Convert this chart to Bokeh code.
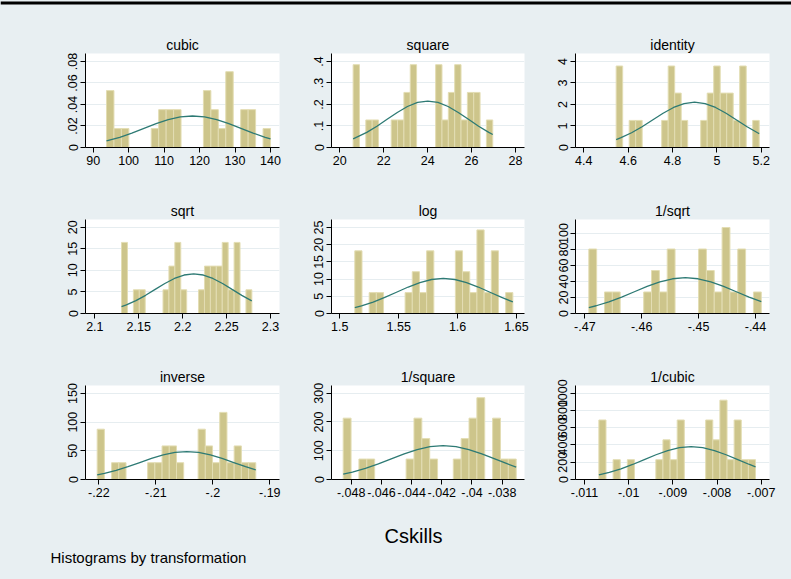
from bokeh.plotting import figure
from bokeh.layouts import column, row
from bokeh.models import FixedTicker, Label, Range1d, Span
from bokeh.embed import file_html
from bokeh.resources import INLINE

# ---------------- data ----------------
N_BINS = 22

titles = ["cubic", "square", "identity", "sqrt", "log", "1/sqrt",
          "inverse", "1/square", "1/cubic"]

# first bin edge and bin width of each histogram
bin_start = [93.76, 20.607, 4.546, 2.1304, 1.51274, -0.4693,
             -0.22029, -0.04853, -0.010675]
bin_width = [2.102, 0.289, 0.02932, 0.006745, 0.006098, 0.001378,
             0.001265, 0.0005208, 0.0001612]

# bar heights (density)
cubic_density = [0.0529, 0.0176, 0.0176, 0, 0, 0, 0.0176, 0.0352, 0.0352, 0.0352, 0,
                 0, 0, 0.0529, 0.0352, 0.0176, 0.0705, 0, 0.0352, 0.0352, 0, 0.0176]
square_density = [0.385, 0, 0.128, 0.128, 0, 0, 0.128, 0.128, 0.256, 0.385, 0,
                  0, 0, 0.385, 0.128, 0.256, 0.385, 0.128, 0.256, 0.256, 0, 0.128]
identity_density = [3.79, 0, 1.26, 1.26, 0, 0, 0, 1.26, 3.79, 2.53, 1.26,
                    0, 0, 1.26, 2.53, 3.79, 2.53, 2.53, 1.26, 3.79, 0, 1.26]
sqrt_density = [16.47, 0, 5.49, 5.49, 0, 0, 0, 5.49, 10.98, 16.47, 5.49,
                0, 0, 5.49, 10.98, 10.98, 10.98, 16.47, 5.49, 16.47, 0, 5.49]
log_density = [18.22, 0, 6.07, 6.07, 0, 0, 0, 6.07, 12.15, 6.07, 18.22,
               0, 0, 0, 18.22, 12.15, 6.07, 24.30, 6.07, 18.22, 0, 6.07]
invsqrt_density = [80.6, 0, 26.9, 26.9, 0, 0, 0, 26.9, 53.7, 26.9, 80.6,
                   0, 0, 0, 80.6, 53.7, 26.9, 107.5, 26.9, 80.6, 0, 26.9]
inverse_density = [87.8, 0, 29.3, 29.3, 0, 0, 0, 29.3, 29.3, 58.6, 58.6,
                   29.3, 0, 0, 87.8, 58.6, 29.3, 117.1, 29.3, 58.6, 29.3, 29.3]
invsquare_density = [213.3, 0, 71.1, 71.1, 0, 0, 0, 0, 71.1, 213.3, 142.2,
                     71.1, 0, 0, 71.1, 142.2, 213.3, 284.4, 0, 213.3, 71.1, 71.1]
invcubic_density = [689.4, 0, 229.8, 0, 229.8, 0, 0, 0, 229.8, 459.6, 229.8,
                    689.4, 0, 0, 0, 689.4, 459.6, 919.2, 229.8, 689.4, 229.8, 229.8]

# normal density curves
cubic_curve_x = [93.76, 97.50, 100.91, 104.33, 107.75, 111.17, 114.58, 118.0,
                 121.42, 124.84, 128.25, 131.67, 135.09, 138.51, 140.0]
cubic_curve_y = [0.00607, 0.00951, 0.01341, 0.01777, 0.02212, 0.02586, 0.02840, 0.0293,
                 0.02840, 0.02586, 0.02212, 0.01777, 0.01341, 0.00951, 0.00803]
square_curve_x = [20.607, 21.228, 21.691, 22.154, 22.617, 23.080, 23.543, 24.006,
                  24.469, 24.932, 25.395, 25.858, 26.321, 26.784, 26.965]
square_curve_y = [0.0401, 0.0701, 0.0989, 0.1310, 0.1630, 0.1906, 0.2094, 0.216,
                  0.2094, 0.1906, 0.1630, 0.1310, 0.0989, 0.0701, 0.0604]
identity_curve_x = [4.546, 4.568, 4.6154, 4.6628, 4.7101, 4.7575, 4.8048, 4.8522, 4.8995,
                    4.9469, 4.9942, 5.0416, 5.0889, 5.1363, 5.1836, 5.191]
identity_curve_y = [0.370, 0.456, 0.685, 0.966, 1.280, 1.593, 1.862, 2.045, 2.11,
                    2.045, 1.862, 1.593, 1.280, 0.966, 0.685, 0.646]
sqrt_curve_x = [2.1304, 2.1359, 2.1468, 2.1578, 2.1687, 2.1797, 2.1906, 2.2016, 2.2125,
                2.2235, 2.2344, 2.2454, 2.2563, 2.2673, 2.2787]
sqrt_curve_y = [1.589, 1.990, 2.987, 4.212, 5.580, 6.945, 8.119, 8.917, 9.2,
                8.917, 8.119, 6.945, 5.580, 4.212, 2.925]
log_curve_x = [1.51274, 1.5184, 1.5283, 1.5382, 1.5481, 1.5581, 1.5680, 1.5779, 1.5878,
               1.5977, 1.6076, 1.6175, 1.6275, 1.6374, 1.6469]
log_curve_y = [1.697, 2.206, 3.311, 4.670, 6.187, 7.699, 9.002, 9.886, 10.2,
               9.886, 9.002, 7.699, 6.187, 4.670, 3.366]
invsqrt_curve_x = [-0.4693, -0.46801, -0.46577, -0.46353, -0.46129, -0.45905, -0.45681,
                   -0.45457, -0.45233, -0.45009, -0.44785, -0.44561, -0.44337, -0.44113,
                   -0.43898]
invsqrt_curve_y = [7.45, 9.69, 14.54, 20.51, 27.17, 33.82, 39.54, 43.42, 44.8,
                   43.42, 39.54, 33.82, 27.17, 20.51, 14.78]
inverse_curve_x = [-0.22029, -0.21901, -0.21695, -0.21489, -0.21282, -0.21076, -0.20870,
                   -0.20663, -0.20457, -0.20251, -0.20044, -0.19838, -0.19632, -0.19425,
                   -0.19246]
inverse_curve_y = [7.95, 10.55, 15.84, 22.34, 29.60, 36.84, 43.07, 47.30, 48.8,
                   47.30, 43.07, 36.84, 29.60, 22.34, 16.63]
invsquare_curve_x = [-0.04853, -0.04792, -0.04706, -0.04620, -0.04535, -0.04449, -0.04363,
                     -0.04278, -0.04192, -0.04106, -0.04021, -0.03935, -0.03849, -0.03764,
                     -0.037073]
invsquare_curve_y = [18.40, 25.52, 38.31, 54.02, 71.57, 89.07, 104.1, 114.4, 118.0,
                     114.4, 104.1, 89.07, 71.57, 54.02, 43.29]
invcubic_curve_x = [-0.010675, -0.010439, -0.010174, -0.009910, -0.009646, -0.009381,
                    -0.009117, -0.008852, -0.008588, -0.008324, -0.008059, -0.007795,
                    -0.007530, -0.007266, -0.007128]
invcubic_curve_y = [54.26, 82.18, 123.4, 174.0, 230.5, 286.8, 335.4, 368.3, 380.0,
                    368.3, 335.4, 286.8, 230.5, 174.0, 146.6]

# axis ticks and labels
cubic_xticks = [90, 100, 110, 120, 130, 140]
cubic_xlabels = ["90", "100", "110", "120", "130", "140"]
cubic_yticks = [0, 0.02, 0.04, 0.06, 0.08]
cubic_ylabels = ["0", ".02", ".04", ".06", ".08"]
square_xticks = [20, 22, 24, 26, 28]
square_xlabels = ["20", "22", "24", "26", "28"]
square_yticks = [0, 0.1, 0.2, 0.3, 0.4]
square_ylabels = ["0", ".1", ".2", ".3", ".4"]
identity_xticks = [4.4, 4.6, 4.8, 5.0, 5.2]
identity_xlabels = ["4.4", "4.6", "4.8", "5", "5.2"]
identity_yticks = [0, 1, 2, 3, 4]
identity_ylabels = ["0", "1", "2", "3", "4"]
sqrt_xticks = [2.1, 2.15, 2.2, 2.25, 2.3]
sqrt_xlabels = ["2.1", "2.15", "2.2", "2.25", "2.3"]
sqrt_yticks = [0, 5, 10, 15, 20]
sqrt_ylabels = ["0", "5", "10", "15", "20"]
log_xticks = [1.5, 1.55, 1.6, 1.65]
log_xlabels = ["1.5", "1.55", "1.6", "1.65"]
log_yticks = [0, 5, 10, 15, 20, 25]
log_ylabels = ["0", "5", "10", "15", "20", "25"]
invsqrt_xticks = [-0.47, -0.46, -0.45, -0.44]
invsqrt_xlabels = ["-.47", "-.46", "-.45", "-.44"]
invsqrt_yticks = [0, 20, 40, 60, 80, 100]
invsqrt_ylabels = ["0", "20", "40", "60", "80", "100"]
inverse_xticks = [-0.22, -0.21, -0.2, -0.19]
inverse_xlabels = ["-.22", "-.21", "-.2", "-.19"]
inverse_yticks = [0, 50, 100, 150]
inverse_ylabels = ["0", "50", "100", "150"]
invsquare_xticks = [-0.048, -0.046, -0.044, -0.042, -0.04, -0.038]
invsquare_xlabels = ["-.048", "-.046", "-.044", "-.042", "-.04", "-.038"]
invsquare_yticks = [0, 100, 200, 300]
invsquare_ylabels = ["0", "100", "200", "300"]
invcubic_xticks = [-0.011, -0.01, -0.009, -0.008, -0.007]
invcubic_xlabels = ["-.011", "-.01", "-.009", "-.008", "-.007"]
invcubic_yticks = [0, 200, 400, 600, 800, 1000]
invcubic_ylabels = ["0", "200", "400", "600", "800", "1000"]

# axis extents of each panel
x_ranges = [(87.84, 142.54), (19.622, 28.41), (4.3626, 5.2374),
            (2.08938, 2.31025), (1.49295, 1.65679), (-0.47164, -0.43754),
            (-0.22234, -0.18830), (-0.049305, -0.036523), (-0.011204, -0.006812)]
y_ranges = [(0, 0.0874), (0, 0.437), (0, 4.372),
            (0, 21.78), (0, 27.33), (0, 117.5),
            (0, 164.0), (0, 326.8), (0, 1089.0)]

x_title = "Cskills"
note = "Histograms by transformation"

# ---------------- styling / layout ----------------
BG = "#e8eff2"
BAR_FILL = "#cdc58b"
BAR_LINE = "#e3ddb3"
CURVE = "#2d7a74"
GRID = "#e6edf0"
FONT = "Liberation Sans"

TOTAL_W = 791
COL_W = [300, 245, 246]
ROW_H = [166, 166, 150]
TOP_STRIP = 31
FOOT_H = 579 - TOP_STRIP - sum(ROW_H)
B_LEFT = [85, 31, 30]
B_RIGHT = [21, 21, 22]
B_TOP = [22, 22, 22]
B_BOTTOM = [50, 50, 34]

densities = [cubic_density, square_density, identity_density, sqrt_density,
             log_density, invsqrt_density, inverse_density, invsquare_density,
             invcubic_density]
curves = [(cubic_curve_x, cubic_curve_y), (square_curve_x, square_curve_y),
          (identity_curve_x, identity_curve_y), (sqrt_curve_x, sqrt_curve_y),
          (log_curve_x, log_curve_y), (invsqrt_curve_x, invsqrt_curve_y),
          (inverse_curve_x, inverse_curve_y), (invsquare_curve_x, invsquare_curve_y),
          (invcubic_curve_x, invcubic_curve_y)]
xticks = [cubic_xticks, square_xticks, identity_xticks, sqrt_xticks, log_xticks,
          invsqrt_xticks, inverse_xticks, invsquare_xticks, invcubic_xticks]
xlabels = [cubic_xlabels, square_xlabels, identity_xlabels, sqrt_xlabels, log_xlabels,
           invsqrt_xlabels, inverse_xlabels, invsquare_xlabels, invcubic_xlabels]
yticks = [cubic_yticks, square_yticks, identity_yticks, sqrt_yticks, log_yticks,
          invsqrt_yticks, inverse_yticks, invsquare_yticks, invcubic_yticks]
ylabels = [cubic_ylabels, square_ylabels, identity_ylabels, sqrt_ylabels, log_ylabels,
           invsqrt_ylabels, inverse_ylabels, invsquare_ylabels, invcubic_ylabels]


def make_panel(i):
    r, c = divmod(i, 3)
    xr, yr = x_ranges[i], y_ranges[i]
    p = figure(width=COL_W[c], height=ROW_H[r],
               x_range=Range1d(*xr), y_range=Range1d(*yr),
               output_backend="svg", toolbar_location=None,
               min_border_left=B_LEFT[c], min_border_right=B_RIGHT[c],
               min_border_top=B_TOP[r], min_border_bottom=B_BOTTOM[r])
    p.background_fill_color = "white"
    p.border_fill_color = BG
    p.outline_line_color = None

    left, right, top = [], [], []
    for k, d in enumerate(densities[i]):
        if d > 0:
            left.append(bin_start[i] + k * bin_width[i])
            right.append(bin_start[i] + (k + 1) * bin_width[i])
            top.append(d)
    p.quad(left=left, right=right, bottom=0, top=top,
           fill_color=BAR_FILL, line_color=BAR_LINE, line_width=1)
    cx, cy = curves[i]
    p.line(cx, cy, line_color=CURVE, line_width=1.3)

    p.xaxis.ticker = FixedTicker(ticks=xticks[i])
    p.xaxis.major_label_overrides = dict(zip(xticks[i], xlabels[i]))
    p.yaxis.ticker = FixedTicker(ticks=yticks[i])
    p.yaxis.major_label_overrides = dict(zip(yticks[i], ylabels[i]))
    p.yaxis.major_label_orientation = "vertical"
    for ax in (p.xaxis, p.yaxis):
        ax.axis_line_color = "black"
        ax.major_tick_line_color = "black"
        ax.minor_tick_line_color = None
        ax.major_tick_out = 5
        ax.major_tick_in = 0
        ax.major_label_text_font = FONT
        ax.major_label_text_font_size = "12.5px"
        ax.major_label_text_color = "black"
        ax.major_label_standoff = 3
    p.xgrid.visible = False
    p.ygrid.grid_line_color = GRID
    p.ygrid.grid_line_width = 1

    p.title.text = titles[i]
    p.title.align = "center"
    p.title.text_font = FONT
    p.title.text_font_size = "14px"
    p.title.text_font_style = "normal"
    p.title.text_color = "black"
    p.title.standoff = 2
    p.title.offset = 0
    return p


panels = [make_panel(i) for i in range(9)]

top = figure(width=TOTAL_W, height=TOP_STRIP, x_range=Range1d(0, 1), y_range=Range1d(0, TOP_STRIP),
             output_backend="svg", toolbar_location=None,
             min_border_left=0, min_border_right=0, min_border_top=0, min_border_bottom=0)
top.axis.visible = False
top.grid.visible = False
top.outline_line_color = None
top.background_fill_color = BG
top.border_fill_color = BG
top.add_layout(Span(location=TOP_STRIP - 2.5, dimension="width", line_color="black", line_width=3))

footer = figure(width=TOTAL_W, height=FOOT_H, x_range=Range1d(0, TOTAL_W), y_range=Range1d(0, FOOT_H),
                output_backend="svg", toolbar_location=None,
                min_border_left=0, min_border_right=0, min_border_top=0,
                min_border_bottom=0)
footer.axis.visible = False
footer.grid.visible = False
footer.outline_line_color = None
footer.background_fill_color = BG
footer.border_fill_color = BG
footer.add_layout(Label(x=413, y=FOOT_H - 22, text=x_title, text_align="center",
                        text_baseline="middle", text_font=FONT,
                        text_font_size="20px", text_color="black"))
footer.add_layout(Label(x=50, y=FOOT_H - 44, text=note, text_align="left",
                        text_baseline="middle", text_font=FONT,
                        text_font_size="15px", text_color="black"))

bgstyle = {"background-color": BG}
layout = column(top,
                row(*panels[0:3], styles=bgstyle),
                row(*panels[3:6], styles=bgstyle),
                row(*panels[6:9], styles=bgstyle),
                footer, styles=bgstyle)

open("out.html", "w").write(file_html(layout, INLINE))
